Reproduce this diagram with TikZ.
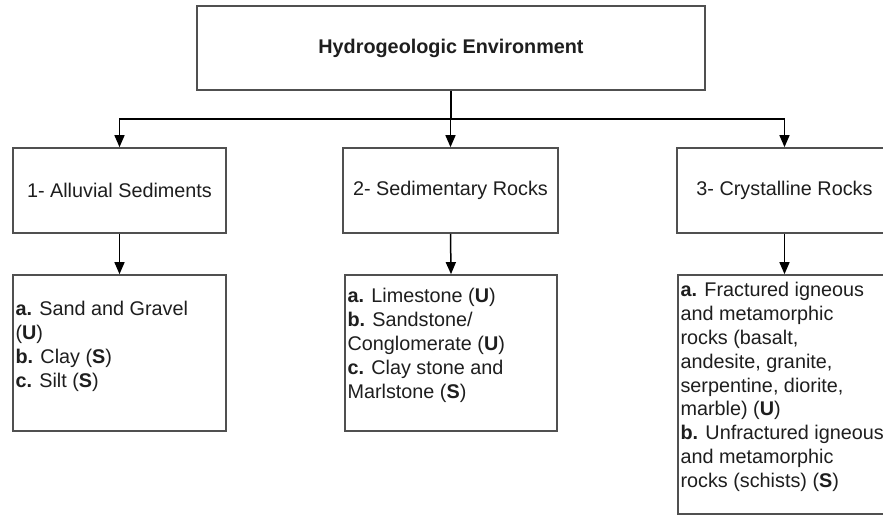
\documentclass[tikz,border=0pt]{standalone}
\usepackage{fontspec}
\setmainfont{Liberation Sans}
\usetikzlibrary{arrows.meta}
\definecolor{boxline}{HTML}{505050}
\definecolor{ink}{HTML}{1E1E1E}
\begin{document}
\begin{tikzpicture}[x=0.5pt,y=-0.5pt,
  every node/.style={font=\fontsize{9.9}{11.9}\selectfont, text=ink},
  panel/.style={draw=boxline, line width=0.85pt, fill=white, inner sep=0pt, rectangle},
  listtext/.style={inner sep=0pt, align=left, anchor=north west},
  arr/.style={draw=black, line width=0.75pt, -{Triangle[length=6pt,width=5pt]}}]
  \useasboundingbox (0,0) rectangle (883,515);
  \clip (0,0) rectangle (883,515);
  \fill[white] (0,0) rectangle (883,515);

  % top level
  \node[panel, minimum width=254pt, minimum height=42pt] (env) at (451,48) {\textbf{Hydrogeologic Environment}};

  % environment classes
  \node[panel, minimum width=106.5pt, minimum height=42.5pt] (b1) at (119.5,190.5) {1- Alluvial Sediments};
  \node[panel, minimum width=107.5pt, minimum height=42.5pt] (b2) at (450.5,190.5) {2- Sedimentary Rocks};
  \node[panel, minimum width=107.5pt, minimum height=42.5pt] (b3) at (784.5,190.5) {3- Crystalline Rocks};

  % rock / sediment lists
  \node[panel, minimum width=106.5pt, minimum height=78pt] (c1) at (119.5,353) {};
  \node[panel, minimum width=106pt, minimum height=78pt] (c2) at (451,353) {};
  \node[panel, minimum width=106.5pt, minimum height=119.5pt] (c3) at (784.5,394.5) {};

  \node[listtext] (c1t) at ([shift={(3,27)}]c1.north west)
    {\textbf{a.} Sand and Gravel\\(\textbf{U})\\\textbf{b.} Clay (\textbf{S})\\\textbf{c.} Silt (\textbf{S})};
  \node[listtext] (c2t) at ([shift={(3,14)}]c2.north west)
    {\textbf{a.} Limestone (\textbf{U})\\\textbf{b.} Sandstone/\\Conglomerate (\textbf{U})\\\textbf{c.} Clay stone and\\Marlstone (\textbf{S})};
  \node[listtext] (c3t) at ([shift={(3,8)}]c3.north west)
    {\textbf{a.} Fractured igneous\\and metamorphic\\rocks (basalt,\\andesite, granite,\\serpentine, diorite,\\marble) (\textbf{U})\\\textbf{b.} Unfractured igneous\\and metamorphic\\rocks (schists) (\textbf{S})};

  % connectors
  \coordinate (bus) at ([shift={(0,28)}]env.south);
  \draw[line width=0.75pt] (env.south) -- (bus);
  \draw[arr] (bus) -| (b1.north);
  \draw[arr] (bus) -- (bus -| b2.north) -- (b2.north);
  \draw[arr] (bus) -| (b3.north);
  \draw[arr] (b1.south) -- (c1.north);
  \draw[arr] (b2.south) -- (c2.north);
  \draw[arr] (b3.south) -- (c3.north);
\end{tikzpicture}
\end{document}
